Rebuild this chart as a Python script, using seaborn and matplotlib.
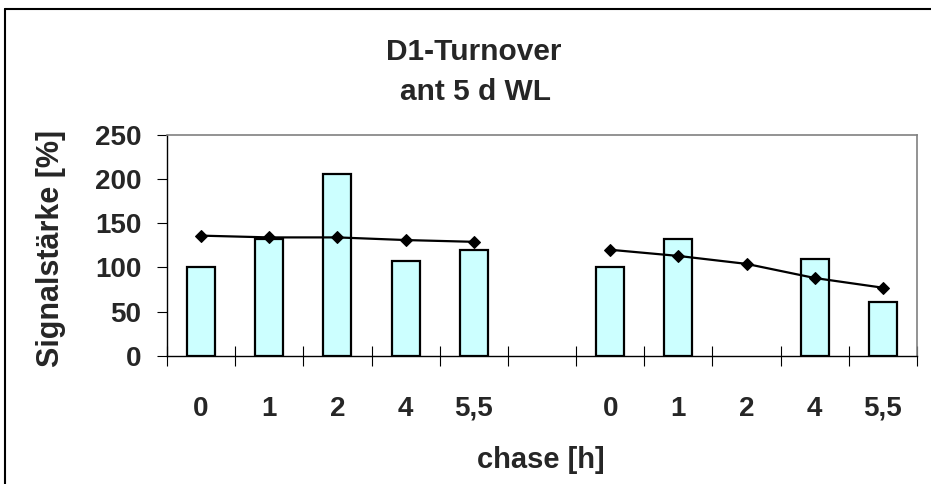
import numpy as np
import pandas as pd
import matplotlib
matplotlib.use("Agg")
import matplotlib.pyplot as plt
from matplotlib.lines import Line2D
import seaborn as sns

# ---- data ----
chase_labels = ["0", "1", "2", "4", "5,5"]
bars_left = [100, 132, 206, 107, 120]
bars_right = [100, 132, np.nan, 109, 61]
line_left = [136, 134, 134, 131, 129]
line_right = [120, 113, 104, 88, 77]

sns.set_theme(style="white")
plt.rcParams['font.family'] = ['Liberation Sans', 'DejaVu Sans']
plt.rcParams['font.weight'] = 'bold'

pos_left = list(range(0, 5))
pos_right = list(range(6, 11))

bar_df = pd.DataFrame({
    "pos": pos_left + pos_right,
    "val": bars_left + bars_right,
}).dropna()

fig = plt.figure(figsize=(9.31, 4.84), dpi=100)
ax = fig.add_axes([167/931, 1-355.7/484, (917-167)/931, (355.7-135)/484])

sns.barplot(data=bar_df, x="pos", y="val", native_scale=True, width=0.41,
            color="#CCFFFF", saturation=1, edgecolor="black", linewidth=1.6,
            ax=ax, zorder=2)

for xs, ys in [(pos_left, line_left), (pos_right, line_right)]:
    d = pd.DataFrame({"pos": xs, "val": ys})
    sns.lineplot(data=d, x="pos", y="val", color="black", linewidth=1.6,
                 marker="D", markersize=6.5, markeredgecolor="black",
                 ax=ax, zorder=3, estimator=None, sort=False)

ax.set_xlim(-0.5, 10.5)
ax.set_ylim(0, 250)
ax.set_yticks([0, 50, 100, 150, 200, 250])

# boundary ticks (crossing), labels at centers
ax.set_xticks(np.arange(-0.5, 10.6, 1.0))
ax.set_xticklabels([])
centers = pos_left + pos_right
ax.set_xticks(centers, minor=True)
ax.set_xticklabels(chase_labels + chase_labels, minor=True)
ax.tick_params(axis="x", which="major", direction="inout", length=15, width=0.8,
               color="black", bottom=True)
ax.tick_params(axis="x", which="minor", length=0, pad=29, labelsize=20)
ax.tick_params(axis="y", direction="out", length=7.5, width=0.8, color="black",
               left=True, labelsize=20, pad=11)

for lab in ax.get_xticklabels(minor=True) + ax.get_yticklabels():
    lab.set_fontweight("bold")

ax.spines["left"].set_color("black")
ax.spines["bottom"].set_color("black")
ax.spines["left"].set_linewidth(1.0)
ax.spines["bottom"].set_linewidth(1.0)
ax.spines["top"].set_color("#808080")
ax.spines["right"].set_color("#808080")
ax.spines["top"].set_linewidth(1.2)
ax.spines["right"].set_linewidth(1.2)

ax.set_xlabel("")
ax.set_ylabel("")

fig.text(51/931, 1-248/484, "Signalstärke [%]", rotation=90, ha="center", va="center",
         fontsize=22, fontweight="bold")
fig.text(541/931, 1-468/484, "chase [h]", ha="center", va="baseline",
         fontsize=21, fontweight="bold")
fig.text(474/931, 1-60/484, "D1-Turnover", ha="center", va="baseline",
         fontsize=21.5, fontweight="bold")
fig.text(475/931, 1-100/484, "ant 5 d WL", ha="center", va="baseline",
         fontsize=21.5, fontweight="bold")

# outer chart frame (left and top edges visible)
fig.add_artist(Line2D([5/931, 5/931], [0, 1-9/484], color="black", linewidth=1.5,
                      transform=fig.transFigure))
fig.add_artist(Line2D([5/931, 1], [1-9/484, 1-9/484], color="black", linewidth=1.5,
                      transform=fig.transFigure))

fig.savefig("out.png", dpi=100)
